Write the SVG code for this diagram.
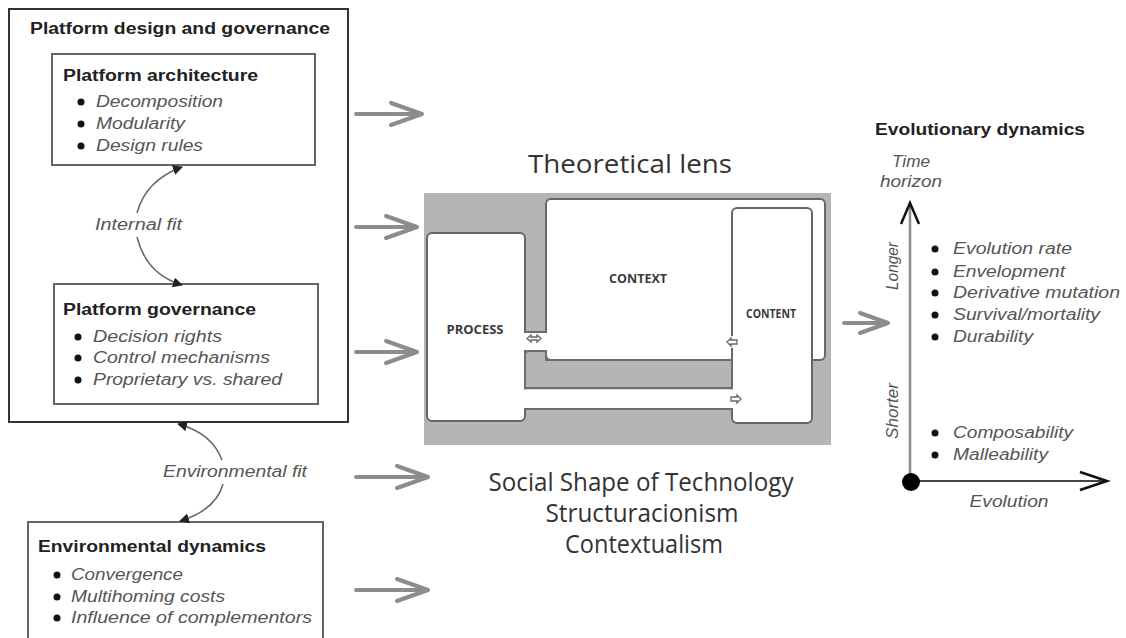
<svg xmlns="http://www.w3.org/2000/svg" width="1126" height="638" viewBox="0 0 1126 638">
<style>
.box{fill:#fff;stroke:#666;stroke-width:2}
.outer{fill:#fff;stroke:#333;stroke-width:2}
.hd{font-family:"Liberation Sans",Arial,sans-serif;font-weight:bold;font-size:16px;fill:#222}
.it{font-family:"Liberation Sans",Arial,sans-serif;font-style:italic;font-size:16px;fill:#555}
.lens{font-family:"Open Sans","Noto Sans",sans-serif;font-size:25px;fill:#333}
.lab{font-family:"Open Sans","Noto Sans",sans-serif;font-weight:bold;font-size:12px;fill:#3a3a3a}
.dot{fill:#111}
.garrow{fill:none;stroke:#8c8c8c;stroke-width:4;stroke-linecap:round;stroke-linejoin:round}
.fit{fill:none;stroke:#666;stroke-width:1.5}
.ln{fill:none;stroke:#6d6d6d;stroke-width:2}
.sym{fill:#fff;stroke:#666;stroke-width:1.3}
</style>
<defs>
<marker id="tri" viewBox="0 0 10 10" refX="9" refY="5" markerWidth="10" markerHeight="10" markerUnits="userSpaceOnUse" orient="auto">
<path d="M0,0 L10,5 L0,10 Z" fill="#222"/>
</marker>
</defs>
<rect width="1126" height="638" fill="#fff"/>

<g id="platform-design-governance">
<rect class="outer" x="9" y="9" width="339" height="413"/>
<text class="hd" x="30" y="34" textLength="300" lengthAdjust="spacingAndGlyphs">Platform design and governance</text>
</g>

<g id="platform-architecture">
<rect class="box" x="52" y="54" width="263" height="111"/>
<text class="hd" x="63" y="81" textLength="195" lengthAdjust="spacingAndGlyphs">Platform architecture</text>
<circle class="dot" cx="81" cy="102" r="3.5"/>
<text class="it" x="96" y="107" textLength="127" lengthAdjust="spacingAndGlyphs">Decomposition</text>
<circle class="dot" cx="81" cy="124" r="3.5"/>
<text class="it" x="96" y="129" textLength="89" lengthAdjust="spacingAndGlyphs">Modularity</text>
<circle class="dot" cx="81" cy="146" r="3.5"/>
<text class="it" x="96" y="151" textLength="107" lengthAdjust="spacingAndGlyphs">Design rules</text>
</g>

<g id="platform-governance">
<rect class="box" x="54" y="284" width="264" height="120"/>
<text class="hd" x="63" y="315" textLength="193" lengthAdjust="spacingAndGlyphs">Platform governance</text>
<circle class="dot" cx="78" cy="337" r="3.5"/>
<text class="it" x="93" y="342" textLength="129" lengthAdjust="spacingAndGlyphs">Decision rights</text>
<circle class="dot" cx="78" cy="358" r="3.5"/>
<text class="it" x="93" y="363" textLength="177" lengthAdjust="spacingAndGlyphs">Control mechanisms</text>
<circle class="dot" cx="78" cy="380" r="3.5"/>
<text class="it" x="93" y="385" textLength="189" lengthAdjust="spacingAndGlyphs">Proprietary vs. shared</text>
</g>

<g id="environmental-dynamics">
<rect class="box" x="28" y="522" width="295" height="130"/>
<text class="hd" x="38" y="552" textLength="228" lengthAdjust="spacingAndGlyphs">Environmental dynamics</text>
<circle class="dot" cx="57" cy="575" r="3.5"/>
<text class="it" x="71" y="580" textLength="112" lengthAdjust="spacingAndGlyphs">Convergence</text>
<circle class="dot" cx="57" cy="597" r="3.5"/>
<text class="it" x="71" y="602" textLength="154" lengthAdjust="spacingAndGlyphs">Multihoming costs</text>
<circle class="dot" cx="57" cy="618" r="3.5"/>
<text class="it" x="71" y="623" textLength="241" lengthAdjust="spacingAndGlyphs">Influence of complementors</text>
</g>

<g id="theoretical-lens">
<text class="lens" x="630" y="173" text-anchor="middle" textLength="204" lengthAdjust="spacingAndGlyphs">Theoretical lens</text>
<rect x="424" y="193" width="407" height="252" fill="#b5b5b3"/>
<rect class="box" x="546" y="199" width="279" height="161" rx="5" stroke="#6d6d6d"/>
<rect class="box" x="732" y="208" width="80" height="215" rx="5" stroke="#6d6d6d"/>
<rect class="box" x="427" y="233" width="98" height="188" rx="5" stroke="#6d6d6d"/>
<rect x="523" y="389.5" width="211" height="18.5" fill="#fff"/>
<rect x="523" y="333" width="25" height="17" fill="#fff"/>
<rect x="729" y="336" width="6" height="12" fill="#fff"/>
<path d="M525,388 L525,355 Q525,351 529,351 L546,351 L546,360 L732,360 L732,388 Z" fill="#b5b5b3" stroke="#6d6d6d" stroke-width="2" stroke-linejoin="round"/>
<path class="ln" d="M525,332 L546,332"/>
<path class="ln" d="M525,409 L732,409"/>
<path class="sym" d="M527,338.5 L531,335 L531,337 L537,337 L537,335 L541,338.5 L537,342 L537,340 L531,340 L531,342 Z"/>
<path class="sym" d="M727,342 L731,338 L731,340 L737,340 L737,344 L731,344 L731,346 Z"/>
<path class="sym" d="M741,399 L737,395 L737,397 L731,397 L731,401 L737,401 L737,403 Z"/>
<text class="lab" x="475" y="334" text-anchor="middle" textLength="57" lengthAdjust="spacingAndGlyphs">PROCESS</text>
<text class="lab" x="638" y="283" text-anchor="middle" textLength="58" lengthAdjust="spacingAndGlyphs">CONTEXT</text>
<text class="lab" x="771" y="318" text-anchor="middle" font-size="11" textLength="50" lengthAdjust="spacingAndGlyphs">CONTENT</text>
<text class="lens" x="641" y="491" text-anchor="middle" textLength="305" lengthAdjust="spacingAndGlyphs">Social Shape of Technology</text>
<text class="lens" x="642" y="522" text-anchor="middle" textLength="193" lengthAdjust="spacingAndGlyphs">Structuracionism</text>
<text class="lens" x="644" y="553" text-anchor="middle" textLength="158" lengthAdjust="spacingAndGlyphs">Contextualism</text>
</g>

<g id="evolutionary-dynamics">
<text class="hd" x="875" y="135" textLength="210" lengthAdjust="spacingAndGlyphs">Evolutionary dynamics</text>
<text class="it" x="911" y="167" text-anchor="middle" textLength="38" lengthAdjust="spacingAndGlyphs">Time</text>
<text class="it" x="911" y="187" text-anchor="middle" textLength="62" lengthAdjust="spacingAndGlyphs">horizon</text>
<line x1="910" y1="482" x2="910" y2="204" stroke="#8c8c8c" stroke-width="2.5"/>
<polyline points="901,224 910,203 919,224" fill="none" stroke="#111" stroke-width="2.5"/>
<line x1="911" y1="481" x2="1106" y2="481" stroke="#444" stroke-width="2"/>
<polyline points="1080,472 1107,481 1080,490" fill="none" stroke="#111" stroke-width="2.5"/>
<circle cx="911" cy="482" r="9" fill="#000"/>
<text class="it" x="1009" y="507" text-anchor="middle" textLength="79" lengthAdjust="spacingAndGlyphs">Evolution</text>
<text class="it" transform="translate(898,266) rotate(-90)" text-anchor="middle" textLength="48" lengthAdjust="spacingAndGlyphs">Longer</text>
<text class="it" transform="translate(898,411) rotate(-90)" text-anchor="middle" textLength="56" lengthAdjust="spacingAndGlyphs">Shorter</text>
<circle class="dot" cx="935" cy="249" r="3.5"/>
<text class="it" x="953" y="254" textLength="119" lengthAdjust="spacingAndGlyphs">Evolution rate</text>
<circle class="dot" cx="935" cy="272" r="3.5"/>
<text class="it" x="953" y="277" textLength="112" lengthAdjust="spacingAndGlyphs">Envelopment</text>
<circle class="dot" cx="935" cy="293" r="3.5"/>
<text class="it" x="953" y="298" textLength="167" lengthAdjust="spacingAndGlyphs">Derivative mutation</text>
<circle class="dot" cx="935" cy="315" r="3.5"/>
<text class="it" x="953" y="320" textLength="147" lengthAdjust="spacingAndGlyphs">Survival/mortality</text>
<circle class="dot" cx="935" cy="337" r="3.5"/>
<text class="it" x="953" y="342" textLength="80" lengthAdjust="spacingAndGlyphs">Durability</text>
<circle class="dot" cx="935" cy="433" r="3.5"/>
<text class="it" x="953" y="438" textLength="120" lengthAdjust="spacingAndGlyphs">Composability</text>
<circle class="dot" cx="935" cy="455" r="3.5"/>
<text class="it" x="953" y="460" textLength="95" lengthAdjust="spacingAndGlyphs">Malleability</text>
</g>

<g id="connectors">
<path class="fit" d="M137,213 Q146,180 182,167" marker-end="url(#tri)"/>
<path class="fit" d="M137,237 Q146,274 182,285" marker-end="url(#tri)"/>
<text class="it" x="95" y="230" textLength="87" lengthAdjust="spacingAndGlyphs">Internal fit</text>
<path class="fit" d="M222,460 Q212,433 178,424" marker-end="url(#tri)"/>
<path class="fit" d="M223,484 Q216,510 180,521" marker-end="url(#tri)"/>
<text class="it" x="163" y="477" textLength="144" lengthAdjust="spacingAndGlyphs">Environmental fit</text>
<path class="garrow" d="M356,114 L421,114 M391,103 L422,114 L391,125"/>
<path class="garrow" d="M356,227 L416,227 M386,216 L417,227 L386,238"/>
<path class="garrow" d="M356,352 L416,352 M386,341 L417,352 L386,363"/>
<path class="garrow" d="M356,477 L427,477 M397,466 L428,477 L397,488"/>
<path class="garrow" d="M356,590 L427,590 M397,579 L428,590 L397,601"/>
<path class="garrow" d="M844,323 L887,323 M860,313 L888,323 L860,333"/>
</g>
</svg>
